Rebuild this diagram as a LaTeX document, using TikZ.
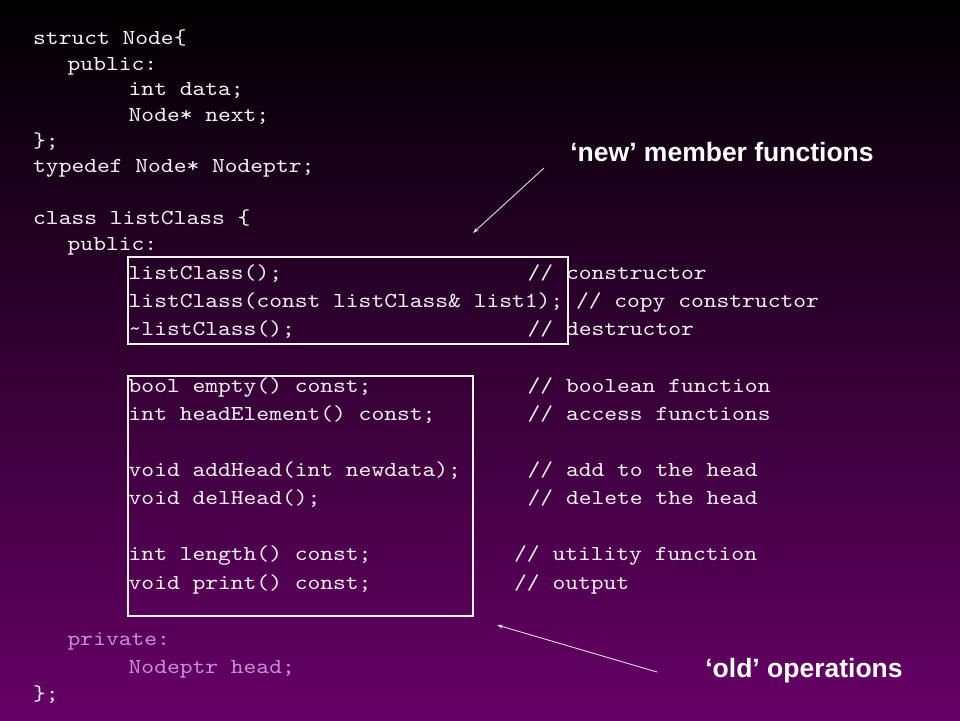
\documentclass[tikz,border=0pt]{standalone}
\usepackage{fontspec}
\usetikzlibrary{arrows.meta}
\newfontfamily\monof{lmmono10-regular.otf}[FakeStretch=1.143]
\newfontfamily\titlef{Liberation Sans}
\definecolor{bgtop}{HTML}{000000}
\definecolor{bgmid}{HTML}{46004C}
\definecolor{bgbot}{HTML}{660066}
\definecolor{codecol}{HTML}{FAF0FA}
\definecolor{privcol}{HTML}{CE8CDC}
\definecolor{arrcol}{HTML}{EAD6F0}
\tikzset{
  code/.style={font=\monof\fontsize{21.3}{24}\selectfont, text=codecol, anchor=base west, inner sep=0pt},
  privcode/.style={code, text=privcol},
  titletext/.style={font=\titlef\bfseries\fontsize{26.5}{30}\selectfont, text=white, inner sep=0pt},
  groupbox/.style={draw=codecol, line width=1.2pt},
  pointer/.style={draw=arrcol, line width=0.9pt, -{Stealth[length=6pt,width=4pt]}}
}
\begin{document}
\begin{tikzpicture}[x=1pt,y=-1pt]
\useasboundingbox (0,0) rectangle (960,720);
\shade[top color=bgtop, middle color=bgmid, bottom color=bgbot] (0pt,0pt) rectangle (960pt,-720pt);
% code lines
\node[code] (l1) at (33,44.3) {struct Node\{};
\node[code] (l2) at (67.5,70) {public:};
\node[code] (l3) at (128.5,95.7) {int data;};
\node[code] (l4) at (128.5,121.4) {Node* next;};
\node[code] (l5) at (33,147) {\};};
\node[code] (l6) at (33,172.7) {typedef Node* Nodeptr;};
\node[code] (l7) at (33,224) {class listClass \{};
\node[code] (l8) at (67.5,250) {public:};
\node[code] (c1) at (128.5,279) {listClass();};
\node[code] (c1c) at (527.5,279) {// constructor};
\node[code] (c2) at (128.5,307) {listClass(const listClass\& list1); // copy constructor};
\node[code] (c3) at (128.5,335) {\textasciitilde listClass();};
\node[code] (c3c) at (527.5,335) {// destructor};
\node[code] (o1) at (128.5,392) {bool empty() const;};
\node[code] (o1c) at (527.5,392) {// boolean function};
\node[code] (o2) at (128.5,420) {int headElement() const;};
\node[code] (o2c) at (527.5,420) {// access functions};
\node[code] (o3) at (128.5,476) {void addHead(int newdata);};
\node[code] (o3c) at (527.5,476) {// add to the head};
\node[code] (o4) at (128.5,504) {void delHead();};
\node[code] (o4c) at (527.5,504) {// delete the head};
\node[code] (o5) at (128.5,560) {int length() const;};
\node[code] (o5c) at (514,560) {// utility function};
\node[code] (o6) at (128.5,589) {void print() const;};
\node[code] (o6c) at (514,589) {// output};
\node[privcode] (p1) at (67.5,645) {private:};
\node[privcode] (p2) at (128.5,673) {Nodeptr head;};
\node[code] (l9) at (33,700) {\};};
% boxes
\draw[groupbox] (128,257) rectangle (568,344);
\draw[groupbox] (128,376) rectangle (473,616);
% titles
\node[titletext] (newt) at (722,152) {‘new’ member functions};
\node[titletext] (oldt) at (804,671) {‘old’ operations};
% arrows
\coordinate (newtail) at (544,168);
\coordinate (newtip) at (473,233);
\coordinate (oldtail) at (657,672);
\coordinate (oldtip) at (497,625);
\draw[pointer] (newtail) -- (newtip);
\draw[pointer] (oldtail) -- (oldtip);
\end{tikzpicture}
\end{document}
